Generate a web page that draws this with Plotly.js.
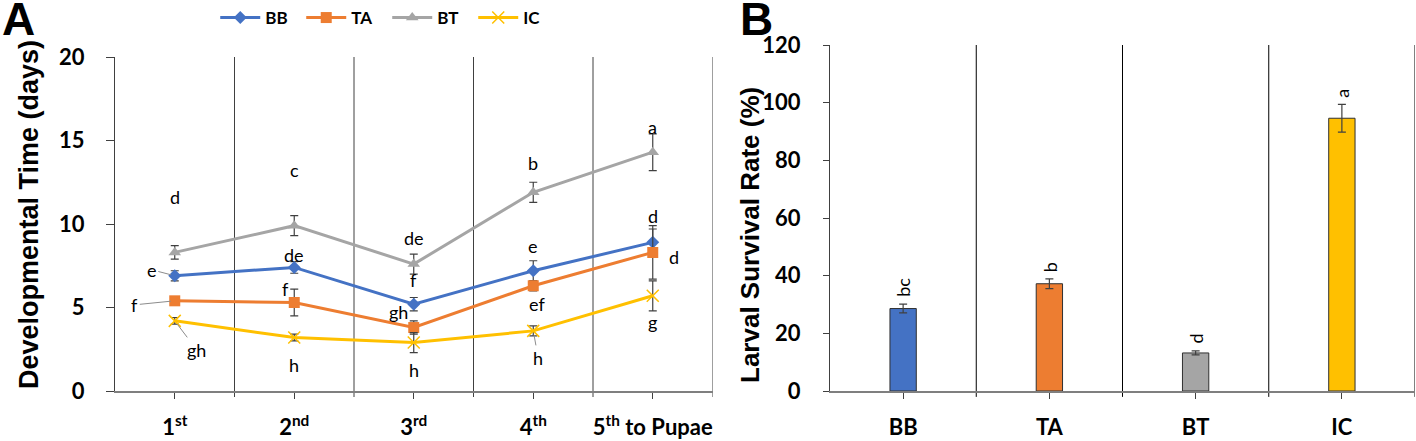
<!DOCTYPE html>
<html>
<head>
<meta charset="utf-8">
<script src="https://cdn.plot.ly/plotly-3.0.1.min.js"></script>
<style>
  html, body { margin: 0; padding: 0; background: #fff; }
  #chart { width: 1416px; height: 441px; }
</style>
</head>
<body>
<div id="chart"></div>
<script>
// ---- data ----
const stages = ["1<sup>st</sup>", "2<sup>nd</sup>", "3<sup>rd</sup>", "4<sup>th</sup>", "5<sup>th</sup> to Pupae"]

const bbTime = [6.9, 7.4, 5.2, 7.2, 8.9]
const bbErr = [0.3, 0.35, 0.4, 0.6, 0.8]
const bbLetters = ["e", "de", "f", "e", "d"]

const taTime = [5.4, 5.3, 3.8, 6.3, 8.3]
const taErr = [0.2, 0.8, 0.4, 0.3, 1.6]
const taLetters = ["f", "f", "gh", "ef", "d"]

const btTime = [8.3, 9.9, 7.6, 11.9, 14.3]
const btErr = [0.4, 0.6, 0.6, 0.6, 1.1]
const btLetters = ["d", "c", "de", "b", "a"]

const icTime = [4.2, 3.2, 2.9, 3.6, 5.7]
const icErr = [0.2, 0.2, 0.6, 0.3, 0.9]
const icLetters = ["gh", "h", "h", "h", "g"]

const groups = ["BB", "TA", "BT", "IC"]
const survival = [28.6, 37.2, 13.2, 94.6]
const survivalErr = [1.5, 1.7, 0.7, 4.8]
const survivalLetters = ["bc", "b", "d", "a"]

const colors = ["#4472C4", "#ED7D31", "#A5A5A5", "#FFC000"]

// label offsets (pixels) for the letters in panel A: [dx, dy, leader line]
const bbShift = [[-23, 6, 1], [0, 12, 0], [0, 24, 0], [0, 25, 0], [0, 26, 0]]
const taShift = [[-40, -4, 1], [-9, 13, 0], [-15, 16, 0], [4, -18, 0], [21, -5, 0]]
const btShift = [[0, 55, 0], [0, 56, 0], [0, 26, 0], [0, 29, 0], [0, 25, 0]]
const icShift = [[22, -29, 1], [0, -27, 0], [0, -27, 0], [5, -27, 1], [0, -26, 0]]

const tickFont = {family: "Lato, 'Open Sans', sans-serif", size: 22, color: "#000", weight: "bold"}
const letterFont = {family: "Lato, 'Open Sans', sans-serif", size: 18, color: "#000"}
const errStyle = {type: "data", visible: true, color: "#404040", thickness: 1.2, width: 4}

function lineTrace(name, y, err, color, symbol, size) {
    return {
        x: stages, y: y, name: name, type: "scatter", mode: "lines+markers",
        xaxis: "x", yaxis: "y",
        line: {color: color, width: 3},
        marker: symbol === "x-thin-open"
            ? {symbol: symbol, size: size, color: color, line: {color: color, width: 1.5}}
            : {symbol: symbol, size: size, color: color},
        error_y: Object.assign({array: err}, errStyle),
    }
}

const traces = [
    lineTrace("BB", bbTime, bbErr, colors[0], "diamond", 10),
    lineTrace("TA", taTime, taErr, colors[1], "square", 11),
    lineTrace("BT", btTime, btErr, colors[2], "triangle-up", 11),
    lineTrace("IC", icTime, icErr, colors[3], "x-thin-open", 12),
    {
        x: groups, y: survival, type: "bar", xaxis: "x2", yaxis: "y2",
        showlegend: false, width: 0.18,
        marker: {color: colors, line: {color: "#303030", width: 1}},
        error_y: Object.assign({array: survivalErr}, errStyle),
    },
]

const annotations = []

function addLetters(y, letters, shifts) {
    letters.forEach((t, i) => {
        const s = shifts[i]
        if (s[2]) {
            // label with a leader line like the excel export
            annotations.push({
                x: stages[i], y: y[i], xref: "x", yref: "y", text: t,
                showarrow: true, arrowhead: 0, arrowwidth: 1, arrowcolor: "#8c8c8c",
                ax: s[0], ay: -s[1], standoff: 4, font: letterFont,
            })
        } else {
            annotations.push({
                x: stages[i], y: y[i], xref: "x", yref: "y", text: t,
                showarrow: false, xshift: s[0], yshift: s[1], font: letterFont,
            })
        }
    })
}

addLetters(bbTime, bbLetters, bbShift)
addLetters(taTime, taLetters, taShift)
addLetters(btTime, btLetters, btShift)
addLetters(icTime, icLetters, icShift)

survivalLetters.forEach((t, i) => {
    annotations.push({
        x: groups[i], y: survival[i] + survivalErr[i], xref: "x2", yref: "y2",
        text: t, showarrow: false, textangle: -90, yanchor: "bottom", yshift: 5,
        font: letterFont,
    })
})

// panel letters
const panelFont = {family: "Liberation Sans, Arial", size: 46, color: "#000"}
annotations.push({x: 0.0, y: 1.0, xref: "paper", yref: "paper", text: "<b>A</b>", showarrow: false,
    xanchor: "left", yanchor: "middle", yshift: -19, font: panelFont})
annotations.push({x: 0.521, y: 1.0, xref: "paper", yref: "paper", text: "<b>B</b>", showarrow: false,
    xanchor: "left", yanchor: "middle", yshift: -19, font: panelFont})

// axis titles, placed where the excel export has them
const titleFont = {family: "Liberation Sans, Arial", color: "#000"}
annotations.push({x: 29 / 1416, y: 226 / 441, xref: "paper", yref: "paper",
    xanchor: "center", yanchor: "middle",
    text: "<b>Developmental Time (days)</b>", textangle: -90, showarrow: false,
    font: Object.assign({size: 27}, titleFont)})
annotations.push({x: 750 / 1416, y: 206 / 441, xref: "paper", yref: "paper",
    xanchor: "center", yanchor: "middle",
    text: "<b>Larval Survival Rate (%)</b>", textangle: -90, showarrow: false,
    font: Object.assign({size: 26}, titleFont)})

// category boundary lines (drawn on the category scale, running a little below the axis)
const shapes = []
stages.forEach((_, i) => {
    shapes.push({type: "line", xref: "x", yref: "y domain", x0: i + 0.5, x1: i + 0.5, y0: -0.018, y1: 1,
        line: {color: "#404040", width: 1}, layer: "below"})
})
groups.forEach((_, i) => {
    shapes.push({type: "line", xref: "x2", yref: "y2 domain", x0: i + 0.5, x1: i + 0.5, y0: -0.017, y1: 1,
        line: {color: "#000", width: 1}, layer: "below"})
})

const layout = {
    width: 1416, height: 441,
    margin: {l: 0, r: 0, t: 0, b: 0},
    paper_bgcolor: "#fff", plot_bgcolor: "#fff",
    showlegend: true,
    legend: {
        orientation: "h", x: 0.152, y: 1.0, xanchor: "left", yanchor: "top",
        font: {family: "Lato, 'Open Sans', sans-serif", size: 17, color: "#000", weight: "bold"},
        itemwidth: 40, entrywidth: 31, entrywidthmode: "pixels", tracegroupgap: 0,
        bgcolor: "rgba(0,0,0,0)",
    },
    xaxis: {
        domain: [115 / 1416, 712.5 / 1416], anchor: "y", type: "category",
        range: [-0.5, 4.5], ticks: "outside", ticklen: 6,
        tickcolor: "#404040", showgrid: false, ticklabelstandoff: 10,
        showline: true, linecolor: "#7f7f7f", linewidth: 1.5, zeroline: false,
        tickfont: tickFont, fixedrange: true,
    },
    yaxis: {
        domain: [50 / 441, 384 / 441], anchor: "x", range: [0, 20], dtick: 5,
        ticks: "outside", ticklen: 8, tickcolor: "#404040", showgrid: false,
        showline: true, linecolor: "#404040", linewidth: 1, zeroline: false,
        tickfont: tickFont, ticklabelstandoff: 17,
    },
    xaxis2: {
        domain: [830 / 1416, 1415 / 1416], anchor: "y2", type: "category",
        range: [-0.5, 3.5], ticks: "outside", ticklen: 6,
        tickcolor: "#404040", showgrid: false, ticklabelstandoff: 10,
        showline: true, linecolor: "#7f7f7f", linewidth: 1.5, zeroline: false,
        tickfont: tickFont, fixedrange: true,
    },
    yaxis2: {
        domain: [50 / 441, 396 / 441], anchor: "x2", range: [0, 120], dtick: 20,
        ticks: "outside", ticklen: 6, tickcolor: "#404040", showgrid: false,
        showline: true, linecolor: "#404040", linewidth: 1, zeroline: false,
        tickfont: tickFont, ticklabelstandoff: 18,
    },
    shapes: shapes,
    annotations: annotations,
}

Plotly.newPlot("chart", traces, layout, {displayModeBar: false, staticPlot: true})
</script>
</body>
</html>
